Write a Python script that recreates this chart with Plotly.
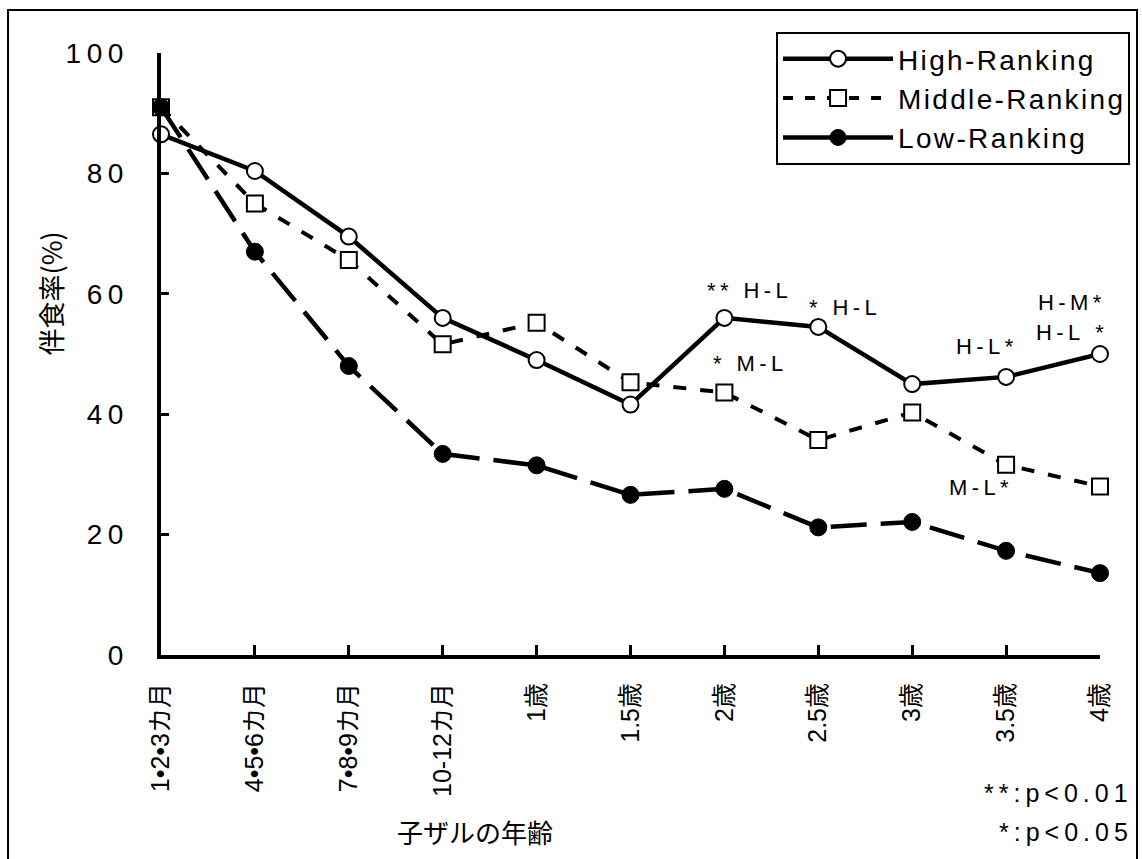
import plotly.graph_objects as go

# 子ザルの年齢区分
ages = ["1•2•3カ月", "4•5•6カ月", "7•8•9カ月", "10-12カ月", "1歳", "1.5歳",
        "2歳", "2.5歳", "3歳", "3.5歳", "4歳"]

# 伴食率(%) by mother's rank
high_rank = [86.5, 80.4, 69.5, 56.0, 49.0, 41.6, 56.0, 54.5, 45.0, 46.2, 50.0]
middle_rank = [91.0, 75.0, 65.6, 51.6, 55.2, 45.3, 43.6, 35.7, 40.3, 31.6, 28.0]
low_rank = [91.0, 67.0, 48.0, 33.4, 31.5, 26.6, 27.6, 21.2, 22.1, 17.3, 13.6]

y_ticks = [0, 20, 40, 60, 80, 100]

LATIN = "Liberation Sans, Arial, Noto Sans CJK JP, sans-serif"
CJK = "Noto Sans CJK JP, Liberation Sans, sans-serif"


def tracked(s, gap="\u2009"):
    """Loosen letter spacing by putting a narrow space between glyphs."""
    return gap.join(s)


x_idx = list(range(len(ages)))

HIGH_LINE = dict(color="black", width=4.5)
MID_LINE = dict(color="black", width=4, dash="13px,14px")
LOW_LINE = dict(color="black", width=4.5, dash="36px,14px")
HIGH_MARK = dict(symbol="circle", size=16, color="white", line=dict(color="black", width=2))
MID_MARK = dict(symbol="square", size=16, color="white", line=dict(color="black", width=2))
LOW_MARK = dict(symbol="circle", size=17, color="black", line=dict(color="black", width=1))

fig = go.Figure()
fig.add_trace(go.Scatter(x=x_idx, y=high_rank, name="High-Ranking", mode="lines+markers",
                         line=HIGH_LINE, marker=HIGH_MARK, cliponaxis=False, showlegend=False))
fig.add_trace(go.Scatter(x=x_idx, y=middle_rank, name="Middle-Ranking", mode="lines+markers",
                         line=MID_LINE, marker=MID_MARK, cliponaxis=False, showlegend=False))
fig.add_trace(go.Scatter(x=x_idx, y=low_rank, name="Low-Ranking", mode="lines+markers",
                         line=LOW_LINE, marker=LOW_MARK, cliponaxis=False, showlegend=False))

# legend keys (the Low-Ranking key is drawn with a solid line)
legend_keys = [
    ("High-Ranking", HIGH_LINE, HIGH_MARK),
    ("Middle-Ranking", dict(color="black", width=4, dash="10px,12px"), MID_MARK),
    ("Low-Ranking", dict(color="black", width=4.5), LOW_MARK),
]
for name, line, mark in legend_keys:
    fig.add_trace(go.Scatter(x=[None], y=[None], name=tracked(name, "\u200a"),
                             mode="lines+markers", line=line, marker=mark))

# significance labels
notes = [
    ("** H-L", 6.25, 60.5),
    ("* H-L", 7.26, 57.8),
    ("* M-L", 6.25, 48.5),
    ("H-L*", 8.78, 51.3),
    ("H-M*", 9.68, 58.5),
    ("H-L *", 9.68, 53.5),
    ("M-L*", 8.71, 27.9),
]
for text, xv, yv in notes:
    fig.add_annotation(x=xv, y=yv, xref="x", yref="y", text=tracked(text),
                       showarrow=False, xanchor="center", yanchor="middle",
                       font=dict(family=LATIN, size=22, color="black"))

fig.add_annotation(x=1.032, y=-0.229, xref="paper", yref="paper",
                   text=tracked("**:p<0.01"), showarrow=False, xanchor="right",
                   yanchor="middle", font=dict(family=LATIN, size=25, color="black"))
fig.add_annotation(x=1.032, y=-0.294, xref="paper", yref="paper",
                   text=tracked("*:p<0.05"), showarrow=False, xanchor="right",
                   yanchor="middle", font=dict(family=LATIN, size=25, color="black"))

# axis titles
fig.add_annotation(x=0.334, y=-0.294, xref="paper", yref="paper",
                   text="子ザルの年齢", showarrow=False, xanchor="center",
                   yanchor="middle", font=dict(family=CJK, size=26, color="black"))
fig.add_annotation(x=-0.118, y=0.601, xref="paper", yref="paper",
                   text="伴食率(%)", showarrow=False, textangle=-90,
                   xanchor="center", yanchor="middle",
                   font=dict(family=CJK, size=27, color="black"))

# outer frame
fig.add_shape(type="rect", xref="paper", yref="paper",
              x0=-0.1629, x1=1.0394, y0=-0.344, y1=1.0714,
              line=dict(color="black", width=2), fillcolor="rgba(0,0,0,0)",
              layer="below")

fig.update_xaxes(
    range=[0, 10], tickmode="array", tickvals=x_idx, ticktext=ages,
    tickangle=-90, showline=True, linecolor="black", linewidth=4,
    ticks="inside", ticklen=10, tickwidth=3, tickcolor="black",
    showgrid=False, zeroline=False, ticklabelstandoff=14,
    tickfont=dict(family=LATIN, size=25, color="black"))
fig.update_yaxes(
    range=[0, 100], tickmode="array", tickvals=y_ticks,
    ticktext=[tracked(str(v)) for v in y_ticks],
    showline=True, linecolor="black", linewidth=4,
    ticks="inside", ticklen=8, tickwidth=3, tickcolor="black",
    showgrid=False, zeroline=False, ticklabelstandoff=28,
    tickfont=dict(family=LATIN, size=28, color="black"))

fig.update_layout(
    width=1142, height=859,
    margin=dict(l=161, r=42, t=53, b=204),
    paper_bgcolor="white", plot_bgcolor="white",
    showlegend=True,
    legend=dict(x=1.032, y=1.035, xanchor="right", yanchor="top",
                bgcolor="white", bordercolor="black", borderwidth=2,
                font=dict(family=LATIN, size=28, color="black"),
                itemwidth=110, tracegroupgap=0),
)

fig.write_html("out.html")
